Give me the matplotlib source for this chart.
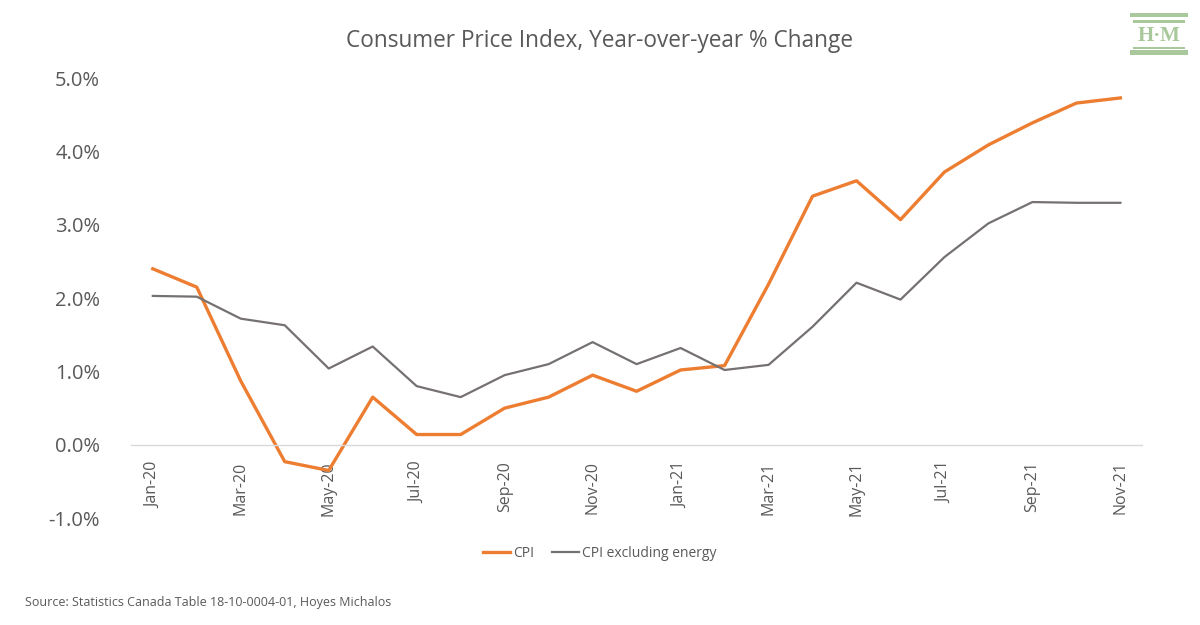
import matplotlib.pyplot as plt
from matplotlib.patches import Rectangle
from matplotlib.ticker import FuncFormatter

months = ['Jan-20', 'Feb-20', 'Mar-20', 'Apr-20', 'May-20', 'Jun-20', 'Jul-20', 'Aug-20',
          'Sep-20', 'Oct-20', 'Nov-20', 'Dec-20', 'Jan-21', 'Feb-21', 'Mar-21', 'Apr-21',
          'May-21', 'Jun-21', 'Jul-21', 'Aug-21', 'Sep-21', 'Oct-21', 'Nov-21']
cpi = [2.40, 2.15, 0.87, -0.23, -0.35, 0.65, 0.14, 0.14, 0.50, 0.65, 0.95, 0.73,
       1.02, 1.08, 2.19, 3.39, 3.60, 3.07, 3.72, 4.09, 4.39, 4.66, 4.73]
cpi_ex_energy = [2.03, 2.02, 1.72, 1.63, 1.04, 1.34, 0.80, 0.65, 0.95, 1.10, 1.40, 1.10,
                 1.32, 1.02, 1.09, 1.61, 2.21, 1.98, 2.56, 3.02, 3.31, 3.30, 3.30]

plt.rcParams['font.family'] = ['Open Sans', 'DejaVu Sans']
text_col = '#595959'

fig = plt.figure(figsize=(12, 6.25), dpi=100)
ax = fig.add_axes([0.109, 0.171, 0.843, 0.704])

x = list(range(len(months)))
ax.plot(x, cpi, color='#ED7D31', lw=2.4, label='CPI')
ax.plot(x, cpi_ex_energy, color='#767171', lw=1.6, label='CPI excluding energy')

ax.set_xlim(-0.5, len(months) - 0.5)
ax.set_ylim(-1, 5)
ax.set_yticks([-1, 0, 1, 2, 3, 4, 5])
ax.yaxis.set_major_formatter(FuncFormatter(lambda v, p: f'{v:.1f}%'))
ax.tick_params(axis='y', length=0, labelsize=14.5, labelcolor=text_col, pad=22)

ax.set_xticks(x[::2])
ax.set_xticklabels(months[::2])
ax.tick_params(axis='x', length=0, labelsize=11.5, labelcolor=text_col, pad=12,
               labelrotation=90)

for s in ['top', 'right', 'left']:
    ax.spines[s].set_visible(False)
ax.spines['bottom'].set_position(('data', 0))
ax.spines['bottom'].set_color('#d9d9d9')
ax.spines['bottom'].set_linewidth(1)

fig.text(0.5, 0.935, 'Consumer Price Index, Year-over-year % Change', ha='center',
         va='center', fontsize=16.3, color=text_col)

fig.legend(loc='center', bbox_to_anchor=(0.5, 0.115), ncol=2, frameon=False,
           fontsize=10, labelcolor=text_col, handlelength=1.9, columnspacing=1.3,
           handletextpad=0.25)

fig.text(0.021, 0.036, 'Source: Statistics Canada Table 18-10-0004-01, Hoyes Michalos',
         fontsize=9, color=text_col, va='center')

# logo
green = '#a9c89b'
for (x0, y0, w, h) in [(0.9417, 0.9728, 0.048, 0.0064),
                       (0.9442, 0.9632, 0.043, 0.0048),
                       (0.9442, 0.9216, 0.043, 0.0032),
                       (0.9417, 0.9120, 0.048, 0.0080)]:
    fig.patches.append(Rectangle((x0, y0), w, h, transform=fig.transFigure,
                                 color=green, lw=0))
fig.text(0.9658, 0.942, 'H\u00b7M', ha='center', va='center', fontsize=15,
         color=green, family='Liberation Serif', fontweight='bold')

fig.savefig('out.png', dpi=100, facecolor='white')
